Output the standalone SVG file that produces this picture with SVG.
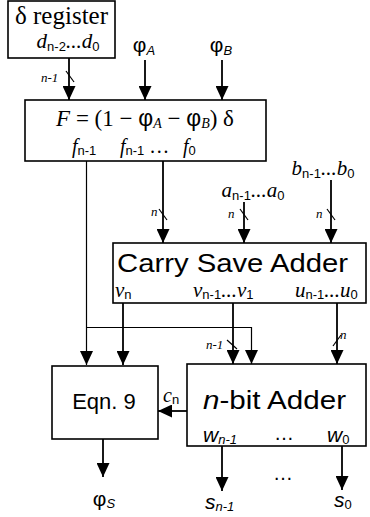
<svg xmlns="http://www.w3.org/2000/svg" width="370" height="517" viewBox="0 0 370 517">
<defs>
<marker id="ah" markerUnits="userSpaceOnUse" markerWidth="14" markerHeight="13" refX="14" refY="6.5" orient="auto" viewBox="0 0 14 13">
<path d="M0,0 L14,6.5 L0,13 z" fill="#000"/>
</marker>
</defs>
<style>
.box{fill:#fff;stroke:#000;stroke-width:1.6}
.w{stroke:#000;stroke-width:1.8;fill:none}
.t{stroke:#000;stroke-width:1.2;fill:none}
.a{marker-end:url(#ah)}
.serif{font-family:"Liberation Serif","DejaVu Serif",serif}
.sans{font-family:"Liberation Sans","DejaVu Sans",sans-serif}
.it{font-style:italic}
.sub{font-family:"Liberation Sans","DejaVu Sans",sans-serif;font-style:normal;font-size:13px}
.bus{font-family:"Liberation Serif","DejaVu Serif",serif;font-style:italic;font-size:13px}
</style>
<g id="connectors">
<line class="w a" x1="69" y1="58" x2="69" y2="100"/>
<line class="w a" x1="145" y1="60" x2="145" y2="100"/>
<line class="w a" x1="222" y1="60" x2="222" y2="100"/>
<line class="t a" x1="86.5" y1="161" x2="86.5" y2="365"/>
<line class="w a" x1="163" y1="161" x2="163" y2="243"/>
<line class="w a" x1="244" y1="202" x2="244" y2="243"/>
<line class="w a" x1="331" y1="180" x2="331" y2="243"/>
<line class="w a" x1="123" y1="303" x2="123" y2="365"/>
<line class="w a" x1="233" y1="303" x2="233" y2="364"/>
<polyline class="t a" points="86.5,327.5 251.5,327.5 251.5,364"/>
<line class="w a" x1="337" y1="303" x2="337" y2="364"/>
<line class="w a" x1="187" y1="411" x2="158" y2="411"/>
<line class="w a" x1="103" y1="439" x2="103" y2="477"/>
<line class="w a" x1="222" y1="446" x2="222" y2="491"/>
<line class="w a" x1="342" y1="446" x2="342" y2="490"/>
<line class="t" x1="66" y1="71" x2="74" y2="82"/>
<text class="bus" x="41" y="82">n-1</text>
<line class="t" x1="159" y1="209" x2="167" y2="220"/>
<text class="bus" x="151" y="216">n</text>
<line class="t" x1="240" y1="209" x2="248" y2="220"/>
<text class="bus" x="228" y="218">n</text>
<line class="t" x1="327" y1="209" x2="335" y2="220"/>
<text class="bus" x="316" y="218">n</text>
<line class="t" x1="227" y1="340" x2="237" y2="349"/>
<text class="bus" x="206" y="349">n-1</text>
<line class="t" x1="333" y1="346" x2="341" y2="335"/>
<text class="bus" x="340" y="339">n</text>
</g>
<g id="delta-register">
<rect class="box" x="8" y="1" width="107" height="57"/>
<text class="serif" x="61.5" y="24" font-size="25" text-anchor="middle">δ register</text>
<text class="serif it" x="68" y="48" font-size="21" text-anchor="middle">d<tspan class="sub" dy="3">n-2</tspan><tspan dy="-3">...d</tspan><tspan class="sub" dy="3">0</tspan></text>
</g>
<g id="phiA">
<text class="sans" x="144" y="52" font-size="21" text-anchor="middle">φ<tspan class="it" font-size="13" dy="3">A</tspan></text>
</g>
<g id="phiB">
<text class="sans" x="221" y="52" font-size="21" text-anchor="middle">φ<tspan class="it" font-size="13" dy="3">B</tspan></text>
</g>
<g id="F-box">
<rect class="box" x="25" y="100" width="241" height="61"/>
<text class="serif" x="145" y="126" font-size="23" text-anchor="middle"><tspan class="it">F</tspan> = (1 − <tspan class="sans">φ</tspan><tspan class="it" font-size="14" dy="2">A</tspan><tspan dy="-2"> − </tspan><tspan class="sans">φ</tspan><tspan class="it" font-size="14" dy="2">B</tspan><tspan dy="-2">) δ</tspan></text>
<text class="serif it" x="72" y="153" font-size="20"><tspan>f</tspan><tspan class="sub" dy="2">n-1</tspan></text>
<text class="serif it" x="120" y="153" font-size="20"><tspan>f</tspan><tspan class="sub" dy="2">n-1</tspan><tspan dy="-2" font-style="normal"> …</tspan></text>
<text class="serif it" x="183" y="153" font-size="20"><tspan>f</tspan><tspan class="sub" dy="2">0</tspan></text>
</g>
<g id="a-input">
<text class="serif it" x="253" y="197" font-size="21" text-anchor="middle">a<tspan class="sub" dy="3">n-1</tspan><tspan dy="-3">...a</tspan><tspan class="sub" dy="3">0</tspan></text>
</g>
<g id="b-input">
<text class="serif it" x="323" y="175" font-size="21" text-anchor="middle">b<tspan class="sub" dy="3">n-1</tspan><tspan dy="-3">...b</tspan><tspan class="sub" dy="3">0</tspan></text>
</g>
<g id="carry-save-adder">
<rect class="box" x="113" y="243" width="253" height="60"/>
<text class="sans" x="117" y="272" font-size="26" textLength="231" lengthAdjust="spacingAndGlyphs">Carry Save Adder</text>
<text class="serif it" x="115" y="297" font-size="21">v<tspan class="sub" dy="2">n</tspan></text>
<text class="serif it" x="193" y="297" font-size="21">v<tspan class="sub" dy="2">n-1</tspan><tspan dy="-2">...v</tspan><tspan class="sub" dy="2">1</tspan></text>
<text class="serif it" x="295" y="297" font-size="21">u<tspan class="sub" dy="2">n-1</tspan><tspan dy="-2">...u</tspan><tspan class="sub" dy="2">0</tspan></text>
</g>
<g id="eqn9">
<rect class="box" x="52" y="366" width="106" height="73"/>
<text class="sans" x="104" y="409" font-size="22" text-anchor="middle">Eqn. 9</text>
<text class="serif it" x="163" y="402" font-size="20">c<tspan class="sub" dy="2">n</tspan></text>
</g>
<g id="n-bit-adder">
<rect class="box" x="187" y="364" width="179" height="82"/>
<text class="sans" x="203" y="409" font-size="26" textLength="143" lengthAdjust="spacingAndGlyphs"><tspan class="it">n</tspan>-bit Adder</text>
<text class="sans it" x="203" y="442" font-size="21">w<tspan font-size="13" dy="2">n-1</tspan></text>
<text class="sans" x="284" y="440" font-size="20" text-anchor="middle">…</text>
<text class="sans it" x="327" y="442" font-size="21">w<tspan font-style="normal" font-size="13" dy="2">0</tspan></text>
</g>
<g id="phiS">
<text class="sans" x="104" y="506" font-size="21" text-anchor="middle">φ<tspan class="it" font-size="13" dy="2">S</tspan></text>
</g>
<g id="outputs">
<text class="sans" x="283" y="480" font-size="20" text-anchor="middle">…</text>
<text class="sans it" x="205" y="509" font-size="21">s<tspan font-size="13" dy="2">n-1</tspan></text>
<text class="sans it" x="334" y="507" font-size="21">s<tspan font-style="normal" font-size="13" dy="2">0</tspan></text>
</g>
</svg>
